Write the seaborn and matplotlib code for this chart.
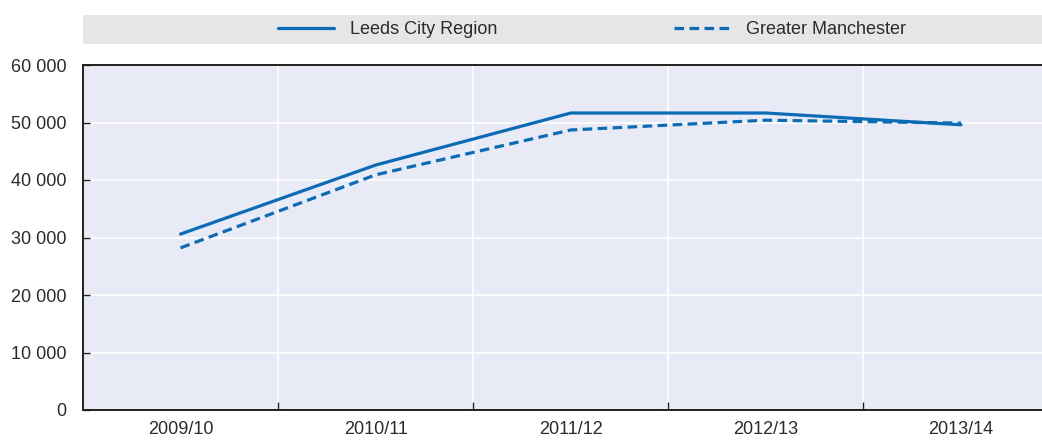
import matplotlib
matplotlib.use("Agg")
import matplotlib.pyplot as plt
import matplotlib.patches as mpatches
from matplotlib.ticker import FuncFormatter, FixedLocator
import seaborn as sns
import pandas as pd

years = ["2009/10", "2010/11", "2011/12", "2012/13", "2013/14"]
leeds = [30600, 42600, 51650, 51650, 49600]
manchester = [28200, 40900, 48700, 50400, 49900]
series_names = ["Leeds City Region", "Greater Manchester"]

df = pd.DataFrame({
    "year": years * 2,
    "x": list(range(len(years))) * 2,
    "value": leeds + manchester,
    "region": [series_names[0]] * len(years) + [series_names[1]] * len(years),
})

sns.set_theme(style="white")
plt.rcParams['font.family'] = ['Liberation Sans Narrow', 'Liberation Sans', 'DejaVu Sans']

W, H = 1042, 441
fig = plt.figure(figsize=(W / 100, H / 100), dpi=100)
ax = fig.add_axes([83 / W, 1 - 410 / H, 1 - 83 / W, (410 - 65) / H])

blue = "#0b6bb5"
text_col = "#2b2b2b"
ax.set_facecolor("#e8ebf6")

sns.lineplot(data=df, x="x", y="value", hue="region", style="region",
             palette=[blue, blue], dashes={series_names[0]: "", series_names[1]: (3, 1.7)},
             linewidth=2.3, ax=ax, legend=False, sort=False)

ax.set_xlim(-0.5, 4.415)
ax.set_ylim(0, 60000)

ax.yaxis.set_major_locator(FixedLocator([0, 10000, 20000, 30000, 40000, 50000, 60000]))
ax.yaxis.set_major_formatter(FuncFormatter(lambda v, p: f"{int(v):,}".replace(",", " ")))
ax.set_xticks(range(len(years)))
ax.set_xticklabels(years)
ax.set_xticks([0.5, 1.5, 2.5, 3.5], minor=True)

ax.grid(False)
ax.grid(True, axis="y", which="major", color="white", linewidth=1.2)
ax.grid(True, axis="x", which="minor", color="white", linewidth=1.2)
ax.set_axisbelow(True)

for side in ["left", "bottom", "top"]:
    ax.spines[side].set_visible(True)
    ax.spines[side].set_color("#231f20")
    ax.spines[side].set_linewidth(1.4)
ax.spines["right"].set_visible(False)

ax.tick_params(axis="y", which="major", direction="in", length=5, width=1, color="#231f20",
               labelsize=13, labelcolor=text_col, pad=12, left=True)
ax.tick_params(axis="x", which="major", length=0, labelsize=13, labelcolor=text_col, pad=8)
ax.tick_params(axis="x", which="minor", direction="in", length=6, width=1, color="#231f20", bottom=True)
ax.set_xlabel("")
ax.set_ylabel("")

# legend band
fig.patches.append(mpatches.Rectangle((83 / W, 1 - 44 / H), 1 - 83 / W, 29 / H,
                                      transform=fig.transFigure, facecolor="#e5e6e8",
                                      edgecolor="none", zorder=0))
handles = [plt.Line2D([], [], color=blue, lw=2.3, linestyle="-"),
           plt.Line2D([], [], color=blue, lw=2.3, linestyle=(0, (3, 1.7)))]
fig.legend(handles, series_names, loc="center", bbox_to_anchor=(592 / W, 1 - 29.5 / H),
           ncol=2, frameon=False, fontsize=13, labelcolor=text_col,
           handlelength=3.1, handletextpad=0.9, columnspacing=9.8)

fig.savefig("out.png", dpi=100)
